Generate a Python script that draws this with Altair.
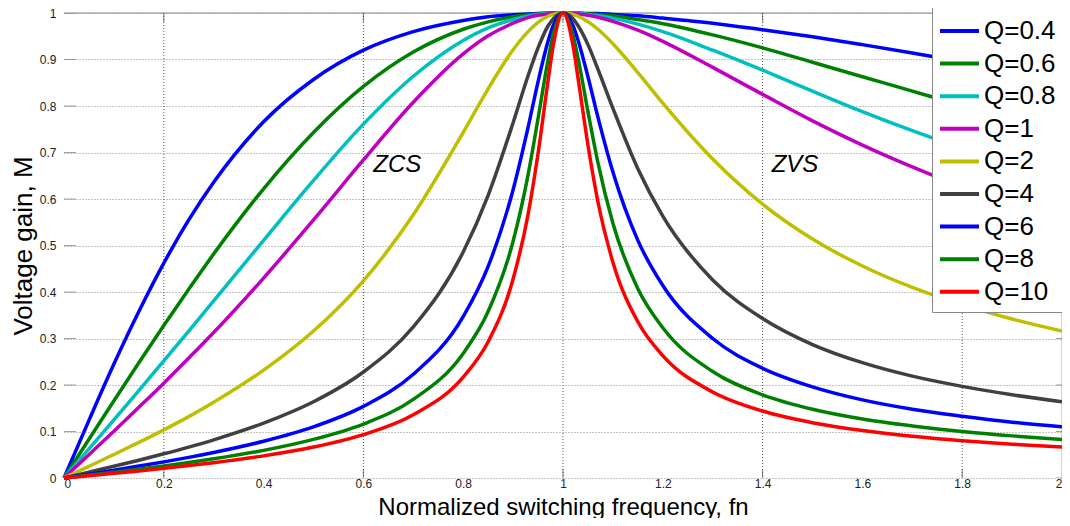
import altair as alt
import pandas as pd

# ---------------- data ----------------
FN = [0, 0.05, 0.1, 0.15, 0.2, 0.25, 0.3, 0.4, 0.5, 0.6, 0.7, 0.8, 0.85, 0.9,
      0.93, 0.95, 0.97, 0.98, 1.0, 1.02, 1.03, 1.05, 1.07, 1.1, 1.15, 1.2,
      1.3, 1.4, 1.5, 1.6, 1.7, 1.8, 1.9, 2.0]

Q_LABELS = ["Q=0.4", "Q=0.6", "Q=0.8", "Q=1", "Q=2", "Q=4", "Q=6", "Q=8", "Q=10"]
Q_COLORS = ["#0000FF", "#008000", "#00BFBF", "#BF00BF", "#BFBF00",
            "#404040", "#0000FF", "#008000", "#FF0000"]

M_Q04 = [0, 0.124, 0.245, 0.358, 0.462, 0.555, 0.636, 0.766, 0.857, 0.920, 0.960,
         0.984, 0.992, 0.996, 0.998, 0.999, 1.0, 1.0, 1.0, 1.0, 1.0, 0.999, 0.999,
         0.997, 0.994, 0.989, 0.978, 0.964, 0.949, 0.932, 0.914, 0.895, 0.876, 0.857]
M_Q06 = [0, 0.0833, 0.166, 0.248, 0.328, 0.406, 0.482, 0.622, 0.743, 0.842, 0.916,
         0.965, 0.981, 0.992, 0.996, 0.998, 0.999, 1.0, 1.0, 1.0, 0.999, 0.998, 0.997,
         0.994, 0.986, 0.977, 0.953, 0.925, 0.894, 0.863, 0.832, 0.801, 0.772, 0.743]
M_Q08 = [0, 0.0625, 0.125, 0.188, 0.252, 0.316, 0.381, 0.511, 0.640, 0.761, 0.864,
         0.941, 0.968, 0.986, 0.993, 0.997, 0.999, 0.999, 1.0, 1.0, 0.999, 0.997, 0.994,
         0.989, 0.976, 0.960, 0.920, 0.877, 0.832, 0.788, 0.747, 0.709, 0.673, 0.640]
M_Q1 = [0, 0.0501, 0.1005, 0.152, 0.204, 0.258, 0.313, 0.430, 0.555, 0.684, 0.808,
        0.912, 0.951, 0.978, 0.990, 0.995, 0.998, 0.999, 1.0, 0.999, 0.998, 0.995, 0.991,
        0.982, 0.963, 0.939, 0.883, 0.825, 0.768, 0.716, 0.669, 0.626, 0.589, 0.555]
M_Q2 = [0, 0.0251, 0.0505, 0.0765, 0.1036, 0.132, 0.163, 0.232, 0.316, 0.424, 0.566,
        0.743, 0.837, 0.921, 0.960, 0.980, 0.993, 0.997, 1.0, 0.997, 0.993, 0.981, 0.965,
        0.934, 0.872, 0.806, 0.686, 0.589, 0.514, 0.456, 0.410, 0.373, 0.342, 0.316]
M_Q4 = [0, 0.0125, 0.0252, 0.0383, 0.052, 0.0665, 0.0821, 0.118, 0.164, 0.228, 0.325,
        0.486, 0.608, 0.764, 0.865, 0.925, 0.972, 0.987, 1.0, 0.988, 0.973, 0.932, 0.879,
        0.795, 0.665, 0.563, 0.426, 0.343, 0.287, 0.248, 0.219, 0.197, 0.179, 0.164]
M_Q6 = [0, 0.00835, 0.0168, 0.0256, 0.0347, 0.0444, 0.0549, 0.0791, 0.110, 0.154, 0.223,
        0.347, 0.455, 0.620, 0.754, 0.852, 0.939, 0.972, 1.0, 0.973, 0.942, 0.863, 0.776,
        0.658, 0.511, 0.414, 0.300, 0.236, 0.196, 0.168, 0.148, 0.133, 0.120, 0.110]
M_Q8 = [0, 0.00627, 0.0126, 0.0192, 0.026, 0.0333, 0.0412, 0.0594, 0.0830, 0.116, 0.169,
        0.268, 0.358, 0.509, 0.652, 0.773, 0.899, 0.952, 1.0, 0.953, 0.904, 0.788, 0.678,
        0.548, 0.407, 0.323, 0.229, 0.179, 0.148, 0.127, 0.112, 0.0999, 0.0906, 0.0830]
M_Q10 = [0, 0.00501, 0.0101, 0.0153, 0.0208, 0.0267, 0.033, 0.0476, 0.0665, 0.0933, 0.136,
         0.217, 0.293, 0.428, 0.567, 0.698, 0.854, 0.927, 1.0, 0.930, 0.861, 0.716, 0.594,
         0.464, 0.336, 0.263, 0.185, 0.144, 0.119, 0.102, 0.0896, 0.0801, 0.0726, 0.0665]

X_TICKS = [0, 0.2, 0.4, 0.6, 0.8, 1, 1.2, 1.4, 1.6, 1.8, 2]
Y_TICKS = [0, 0.1, 0.2, 0.3, 0.4, 0.5, 0.6, 0.7, 0.8, 0.9, 1]
X_GRID = [0.2, 0.6, 1, 1.4, 1.8]

NOTE_TEXT = ["ZCS", "ZVS"]
NOTE_FN = [0.668, 1.465]
NOTE_M = [0.673, 0.673]

# ---------------- build table ----------------
SERIES = [M_Q04, M_Q06, M_Q08, M_Q1, M_Q2, M_Q4, M_Q6, M_Q8, M_Q10]
rows = []
for lab, vals in zip(Q_LABELS, SERIES):
    for f, m in zip(FN, vals):
        rows.append({"fn": f, "M": m, "Q": lab})
df = pd.DataFrame(rows)

FONT = "Liberation Sans"
xs = alt.Scale(domain=[0, 2], nice=False, zero=False)
ys = alt.Scale(domain=[0, 1], nice=False, zero=False)

AX_X = alt.Axis(
    values=X_TICKS, format="~g", title="Normalized switching frequency, fn",
    domain=False, ticks=False, grid=False,
    labelFont=FONT, labelFontSize=12, labelColor="#222222", labelPadding=0.5,
    titleFont=FONT, titleFontSize=24, titleFontWeight="normal",
    titleColor="#000000", titleBaseline="alphabetic", titleY=36, titleX=499)
AX_Y = alt.Axis(
    values=Y_TICKS, format="~g", title="Voltage gain, M",
    domain=False, ticks=False, grid=True,
    gridColor="#888888", gridDash=[1, 2], gridWidth=1,
    labelFont=FONT, labelFontSize=12, labelColor="#222222", labelPadding=8,
    titleFont=FONT, titleFontSize=26, titleFontWeight="normal",
    titleColor="#000000", titleBaseline="alphabetic", titleX=-33, titleY=232.5)


def X(field):
    return alt.X(field, type="quantitative", scale=xs, axis=AX_X)


def Y(field):
    return alt.Y(field, type="quantitative", scale=ys, axis=AX_Y)


lines = alt.Chart(df).mark_line(strokeWidth=3.5, interpolate="monotone").encode(
    x=X("fn"), y=Y("M"),
    color=alt.Color("Q:N", scale=alt.Scale(domain=Q_LABELS, range=Q_COLORS),
                    legend=alt.Legend(
                        title=" ", titleFontSize=12, titlePadding=2,
                        orient="none", legendX=868, legendY=-16,
                        symbolType="stroke", symbolSize=1521, symbolStrokeWidth=4,
                        labelFont=FONT, labelFontSize=26, labelColor="#000000",
                        labelOffset=3, clipHeight=28, rowPadding=4.6,
                        padding=6, fillColor="#FFFFFF", strokeColor="#888888")),
)

# vertical dotted grid lines
xgrid = alt.Chart(pd.DataFrame({"fn": X_GRID})).mark_rule(
    color="#555555", strokeWidth=1, strokeDash=[1, 2]).encode(x=X("fn"))

# inner tick marks along the frame
xt_df = pd.DataFrame({"fn": X_GRID + X_GRID, "M": [0] * 5 + [1] * 5})
xticks = alt.Chart(xt_df).mark_tick(orient="vertical", size=18, thickness=1,
                                    color="#444444", clip=True).encode(x=X("fn"), y=Y("M"))
yl_df = pd.DataFrame({"fn": [0] * len(Y_TICKS), "M": Y_TICKS})
ytl = alt.Chart(yl_df).mark_tick(orient="horizontal", size=24, thickness=1,
                                 color="#777777", clip=True).encode(x=X("fn"), y=Y("M"))
yr_df = pd.DataFrame({"fn": [2] * len(Y_TICKS), "M": Y_TICKS})
ytr = alt.Chart(yr_df).mark_tick(orient="horizontal", size=12, thickness=1,
                                 color="#777777", clip=True).encode(x=X("fn"), y=Y("M"))

# top and right frame lines
top_df = pd.DataFrame({"fn": [0], "fn2": [2], "M": [1]})
top_line = alt.Chart(top_df).mark_rule(color="#888888", strokeWidth=1).encode(
    x=X("fn"), x2="fn2:Q", y=Y("M"))
right_df = pd.DataFrame({"M": [0], "M2": [1], "fn": [2]})
right_line = alt.Chart(right_df).mark_rule(color="#aaaaaa", strokeWidth=1).encode(
    y=Y("M"), y2="M2:Q", x=X("fn"))

notes = alt.Chart(pd.DataFrame({"t": NOTE_TEXT, "fn": NOTE_FN, "M": NOTE_M})).mark_text(
    font=FONT, fontSize=24, fontStyle="italic", color="#000000").encode(
    x=X("fn"), y=Y("M"), text="t:N")

chart = alt.layer(xgrid, top_line, right_line, xticks, ytl, ytr, lines, notes).properties(
    width=998, height=465,
    autosize=alt.AutoSizeParams(type="none"),
    padding={"left": 56, "top": 5, "right": 0, "bottom": 40},
).configure_view(stroke=None)

chart.save("out.html", embed_options={"renderer": "svg", "actions": False})
